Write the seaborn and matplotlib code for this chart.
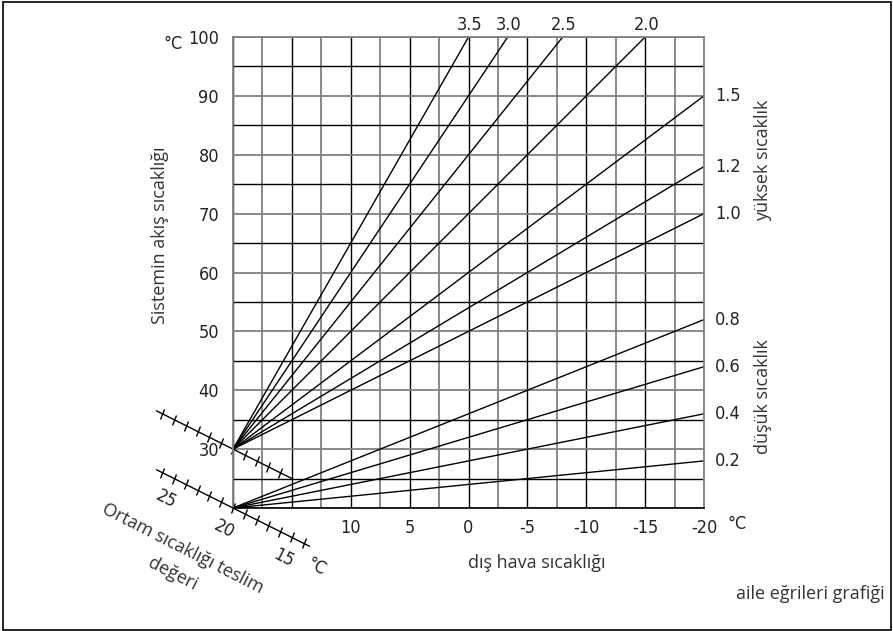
import numpy as np
import pandas as pd
import matplotlib
matplotlib.use("Agg")
import matplotlib.pyplot as plt
from matplotlib.markers import MarkerStyle
from matplotlib.transforms import Affine2D
from matplotlib.patches import Rectangle
import seaborn as sns

# heating curves: label, flow temp at +20 outdoor, end point
curve_labels = ["0.2", "0.4", "0.6", "0.8", "1.0", "1.2", "1.5", "2.0", "2.5", "3.0", "3.5"]
start_outdoor = [20] * 11
start_flow = [20, 20, 20, 20, 30, 30, 30, 30, 30, 30, 30]
end_outdoor = [-20, -20, -20, -20, -20, -20, -20, -15, -8, -3.33, 0]
end_flow = [28, 36, 44, 52, 70, 78, 90, 100, 100, 100, 100]

# axis ticks
x_tick_vals = [20, 15, 10, 5, 0, -5, -10, -15, -20]
x_tick_text = ["", "", "10", "5", "0", "-5", "-10", "-15", "-20"]
y_tick_vals = [20, 30, 40, 50, 60, 70, 80, 90, 100]
y_tick_text = ["", "30", "40", "50", "60", "70", "80", "90", "100"]

# room set-point scales (one tick per degree)
upper_scale_ticks = list(range(26, 15, -1))
lower_scale_ticks = list(range(26, 13, -1))
lower_scale_labels = [25, 20, 15]

W, H = 893, 631
txt_font = ["Open Sans", "DejaVu Sans"]
txt_col = "#333333"
num_col = "#222222"
num_kw = dict(fontsize=13, color=num_col, fontstretch="condensed")

sns.set_style("white")
plt.rcParams["font.family"] = ["DejaVu Sans"]
plt.rcParams["font.stretch"] = "condensed"

fig = plt.figure(figsize=(W / 100, H / 100), dpi=100)
ax = fig.add_axes([233 / W, 1 - 508 / H, 471 / W, 471 / H])

rows = []
for lab, x0, y0, x1, y1 in zip(curve_labels, start_outdoor, start_flow, end_outdoor, end_flow):
    rows.append({"curve": lab, "outdoor": x0, "flow": y0})
    rows.append({"curve": lab, "outdoor": x1, "flow": y1})
df = pd.DataFrame(rows)

sns.lineplot(data=df, x="outdoor", y="flow", units="curve", estimator=None,
             color="black", lw=1, ax=ax, legend=False)

ax.set_xlim(20, -20)
ax.set_ylim(20, 100)
ax.set_xticks(x_tick_vals)
ax.set_xticklabels(x_tick_text, **num_kw)
ax.set_xticks(np.arange(17.5, -20, -5), minor=True)
ax.set_yticks(y_tick_vals)
ax.set_yticklabels(y_tick_text, **num_kw)
ax.set_yticks(np.arange(25, 100, 10), minor=True)
ax.tick_params(which="both", length=0)
ax.tick_params(axis="x", pad=8)
ax.tick_params(axis="y", pad=10)
ax.set_xlabel("")
ax.set_ylabel("")
ax.xaxis.grid(True, which="major", color="black", lw=1)
ax.xaxis.grid(True, which="minor", color="#808080", lw=1.3)
ax.yaxis.grid(True, which="major", color="#808080", lw=1.3)
ax.yaxis.grid(True, which="minor", color="black", lw=1)
ax.set_axisbelow(True)
for side in ["left", "top", "right"]:
    ax.spines[side].set_color("#808080")
    ax.spines[side].set_linewidth(1.3)
ax.spines["bottom"].set_color("black")
ax.spines["bottom"].set_linewidth(1.2)

# curve labels
for lab, x1, y1 in zip(curve_labels, end_outdoor, end_flow):
    if y1 >= 100:
        ax.annotate(lab, (x1, y1), xytext=(1, 9), textcoords="offset points",
                    ha="center", va="center", annotation_clip=False, **num_kw)
    else:
        ax.annotate(lab, (x1, y1), xytext=(8, 0), textcoords="offset points",
                    ha="left", va="center", annotation_clip=False, **num_kw)

# room temperature scales: points (T, T) and (T, T + 10)
tick_marker = MarkerStyle("|", transform=Affine2D().rotate_deg(-26.5))
up = np.array(upper_scale_ticks, dtype=float)
lo = np.array(lower_scale_ticks, dtype=float)
ax.plot([26.5, 15.0], [36.5, 25.0], color="black", lw=1, clip_on=False)
ax.plot(up, up + 10, ls="none", marker=tick_marker, ms=8, mew=1, color="black", clip_on=False)
ax.plot([26.5, 13.5], [26.5, 13.5], color="black", lw=1, clip_on=False)
ax.plot(lo, lo, ls="none", marker=tick_marker, ms=8, mew=1, color="black", clip_on=False)
for t in lower_scale_labels:
    ax.annotate(str(t), (t, t), xytext=(-6, -15), textcoords="offset points",
                ha="center", va="center", rotation=-27, annotation_clip=False, **num_kw)
ax.annotate("°C", (13, 13), xytext=(1, -13), textcoords="offset points",
            ha="center", va="center", rotation=-27, annotation_clip=False, **num_kw)

def fpos(px, py):
    return px / W, 1 - py / H

fig.text(*fpos(173, 44), "°C", ha="center", va="center", **num_kw)
fig.text(*fpos(737, 524), "°C", ha="center", va="center", **num_kw)

lab_kw = dict(fontsize=13, color=txt_col, family=txt_font, fontstretch="normal",
              ha="center", va="center")
fig.text(*fpos(160, 235), "Sistemin akış sıcaklığı", rotation=90, **lab_kw)
fig.text(*fpos(763, 160), "yüksek sıcaklık", rotation=90, **lab_kw)
fig.text(*fpos(763, 397), "düşük sıcaklık", rotation=90, **lab_kw)
fig.text(*fpos(537, 563), "dış hava sıcaklığı", **lab_kw)
fig.text(*fpos(810, 594), "aile eğrileri grafiği", **lab_kw)
fig.text(*fpos(183, 549), "Ortam sıcaklığı teslim", rotation=-27, rotation_mode="anchor", **lab_kw)
fig.text(*fpos(173, 574), "değeri", rotation=-27, rotation_mode="anchor", **lab_kw)

fig.patches.append(Rectangle((0.003, 0.002), 0.995, 0.995, transform=fig.transFigure,
                             fill=False, edgecolor="black", lw=1.2))

fig.savefig("out.png", dpi=100)
